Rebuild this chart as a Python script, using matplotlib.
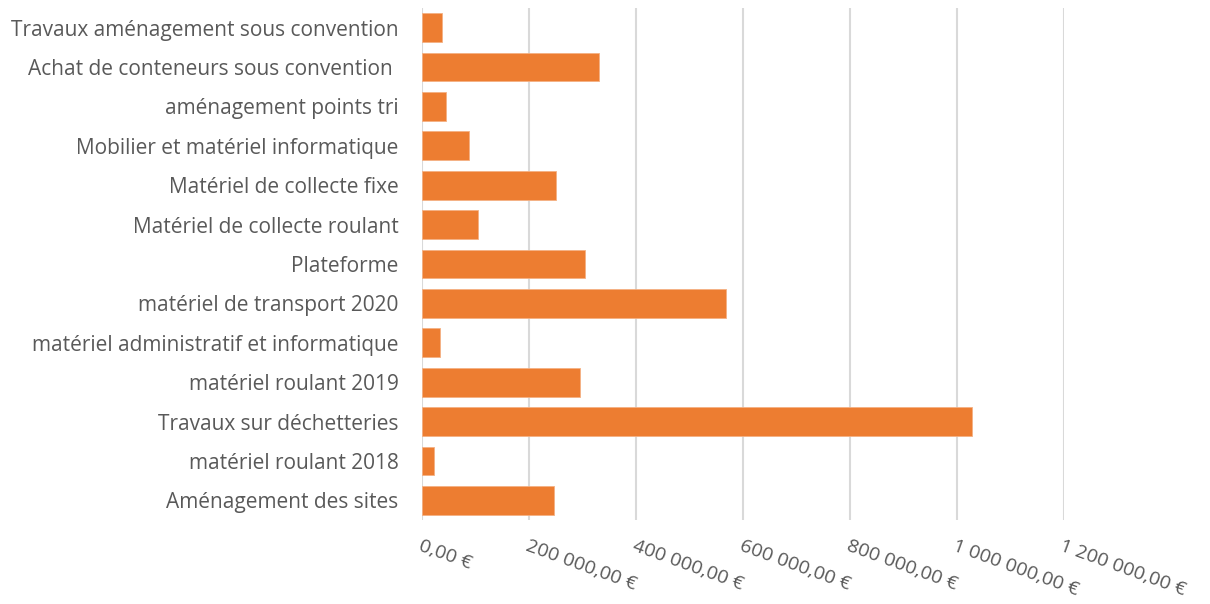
import matplotlib.pyplot as plt
from matplotlib.ticker import FuncFormatter, MultipleLocator

categories = ["Travaux aménagement sous convention", "Achat de conteneurs sous convention ",
              "aménagement points tri", "Mobilier et matériel informatique",
              "Matériel de collecte fixe", "Matériel de collecte roulant", "Plateforme",
              "matériel de transport 2020", "matériel administratif et informatique",
              "matériel roulant 2019", "Travaux sur déchetteries", "matériel roulant 2018",
              "Aménagement des sites"]
amounts = [36400, 330500, 45000, 87700, 251000, 104700, 305000,
           568500, 33600, 294700, 1028000, 21500, 247000]

plt.rcParams['font.family'] = ['Open Sans', 'DejaVu Sans']

fig = plt.figure(figsize=(12.1, 6.04), dpi=100)
ax = fig.add_axes([0.3488, 0.139, 0.5305, 0.848])

ax.barh(range(len(categories)), amounts, height=0.73, color='#ED7D31',
        edgecolor='#F4B183', linewidth=0.6, zorder=3)
ax.set_yticks(range(len(categories)))
ax.set_yticklabels(categories)
ax.set_ylim(len(categories) - 0.5, -0.5)
ax.set_xlim(0, 1200000)
ax.xaxis.set_major_locator(MultipleLocator(200000))


def euro(v, pos):
    s = f"{v:,.2f}".replace(",", " ").replace(".", ",")
    return s + " €"


ax.xaxis.set_major_formatter(FuncFormatter(euro))
ax.grid(axis='x', color='#D9D9D9', linewidth=1.5, zorder=0)
for s in ax.spines.values():
    s.set_visible(False)
ax.tick_params(axis='y', length=0, pad=17, labelsize=15, labelcolor='#595959')
ax.tick_params(axis='x', length=0, pad=12, labelsize=14, labelcolor='#595959')
for lab in ax.get_xticklabels():
    lab.set_rotation(-20)
    lab.set_ha('left')
    lab.set_va('top')
    lab.set_rotation_mode('anchor')

fig.savefig('out.png', dpi=100)
